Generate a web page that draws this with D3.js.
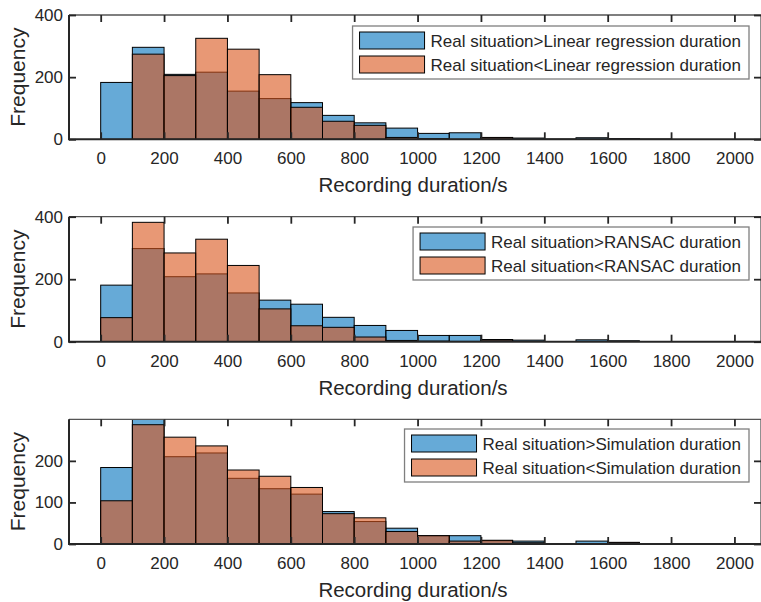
<!DOCTYPE html>
<html>
<head>
<meta charset="utf-8">
<script src="https://cdn.jsdelivr.net/npm/d3@7"></script>
<style>
  body { margin: 0; background: #fff; }
  svg text { font-family: "Liberation Sans", Arial, Helvetica, sans-serif; fill: #262626; }
</style>
</head>
<body>
<svg id="chart" width="761" height="602"></svg>
<script>
// ---- data ----
const binStarts = [0, 100, 200, 300, 400, 500, 600, 700, 800, 900,
                   1000, 1100, 1200, 1300, 1400, 1500, 1600, 1700, 1800, 1900];
const binWidth = 100;

const overLinear  = [183, 296, 209, 216, 155, 131, 118, 77, 53, 36, 19, 21, 6, 4, 1, 5, 2, 1, 0, 0];
const underLinear = [0, 274, 205, 325, 290, 208, 103, 58, 45, 6, 2, 0, 5, 0, 0, 0, 1, 0, 0, 0];

const overRansac  = [181, 298, 208, 217, 156, 133, 120, 78, 52, 36, 20, 20, 7, 5, 0, 6, 3, 0, 0, 0];
const underRansac = [77, 382, 284, 328, 244, 105, 51, 46, 15, 4, 2, 1, 5, 1, 0, 1, 1, 0, 0, 0];

const overSim     = [184, 302, 210, 219, 158, 133, 120, 78, 54, 38, 20, 20, 8, 7, 0, 7, 4, 1, 0, 0];
const underSim    = [104, 287, 257, 236, 178, 163, 136, 73, 63, 30, 20, 7, 9, 3, 0, 1, 3, 0, 0, 0];

const legendOver  = ["Real situation>Linear regression duration", "Real situation>RANSAC duration", "Real situation>Simulation duration"];
const legendUnder = ["Real situation<Linear regression duration", "Real situation<RANSAC duration", "Real situation<Simulation duration"];

const xTicks = [0, 200, 400, 600, 800, 1000, 1200, 1400, 1600, 1800, 2000];
const yTicksA = [0, 200, 400];
const yTicksC = [0, 100, 200];
const yMax = [400, 400, 300];

// ---- layout ----
const svg = d3.select("#chart");
const left = 69, right = 762;
const panels = [
  { top: 15,    bottom: 139.3, over: overLinear, under: underLinear, ticks: yTicksA },
  { top: 216.7, bottom: 341.7, over: overRansac, under: underRansac, ticks: yTicksA },
  { top: 419.3, bottom: 544,   over: overSim,    under: underSim,    ticks: yTicksC }
];
const blue = "#0072bd", orange = "#d95319", axisCol = "#262626";
const tickLen = 7;

const x = d3.scaleLinear().domain([-100, 2087]).range([left, right]);

panels.forEach((p, i) => {
  const y = d3.scaleLinear().domain([0, yMax[i]]).range([p.bottom, p.top]);
  const g = svg.append("g");

  g.append("clipPath").attr("id", "clip" + i)
    .append("rect").attr("x", left).attr("y", p.top)
    .attr("width", right - left).attr("height", p.bottom - p.top);

  const bars = g.append("g").attr("clip-path", `url(#clip${i})`);
  [[p.over, blue], [p.under, orange]].forEach(([vals, col]) => {
    bars.append("g").selectAll("rect")
      .data(binStarts.map((b, k) => ({ b, v: vals[k] })).filter(d => d.v > 0))
      .join("rect")
      .attr("x", d => x(d.b))
      .attr("width", d => x(d.b + binWidth) - x(d.b))
      .attr("y", d => y(d.v))
      .attr("height", d => y(0) - y(d.v))
      .attr("fill", col).attr("fill-opacity", 0.6)
      .attr("stroke", "#000").attr("stroke-width", 1);
  });

  // box: top/right lighter, left/bottom dark
  g.append("line").attr("x1", left).attr("x2", right).attr("y1", p.top).attr("y2", p.top)
    .attr("stroke", "#555").attr("stroke-width", 1.3);
  g.append("line").attr("x1", right - 1).attr("x2", right - 1).attr("y1", p.top).attr("y2", p.bottom)
    .attr("stroke", "#555").attr("stroke-width", 1.3);

  // x axis (bottom, ticks inward) + mirrored ticks on top
  const xa = g.append("g").attr("transform", `translate(0,${p.bottom})`)
    .call(d3.axisBottom(x).tickValues(xTicks).tickSize(-tickLen).tickPadding(tickLen + 6).tickFormat(d3.format("d")));
  xa.select(".domain").remove();
  xa.selectAll("line").attr("stroke", axisCol).attr("stroke-width", 1.8);
  xa.selectAll("text").style("font-size", "17px").attr("fill", axisCol);
  g.append("g").attr("transform", `translate(0,${p.top})`)
    .call(d3.axisTop(x).tickValues(xTicks).tickSize(-tickLen).tickFormat(""))
    .call(a => a.select(".domain").remove())
    .selectAll("line").attr("stroke", axisCol).attr("stroke-width", 1.8);

  const ya = g.append("g").attr("transform", `translate(${left},0)`)
    .call(d3.axisLeft(y).tickValues(p.ticks).tickSize(-tickLen).tickPadding(6));
  ya.select(".domain").remove();
  ya.selectAll("line").attr("stroke", axisCol).attr("stroke-width", 1.8);
  ya.selectAll("text").style("font-size", "17px").attr("fill", axisCol);
  g.append("g").attr("transform", `translate(${right - 1},0)`)
    .call(d3.axisRight(y).tickValues(p.ticks).tickSize(-tickLen).tickFormat(""))
    .call(a => a.select(".domain").remove())
    .selectAll("line").attr("stroke", axisCol).attr("stroke-width", 1.8);

  g.append("line").attr("x1", left).attr("x2", left).attr("y1", p.top).attr("y2", p.bottom + 1)
    .attr("stroke", axisCol).attr("stroke-width", 2);
  g.append("line").attr("x1", left).attr("x2", right).attr("y1", p.bottom).attr("y2", p.bottom)
    .attr("stroke", axisCol).attr("stroke-width", 2);

  // labels
  g.append("text").attr("x", 413).attr("y", p.bottom + 53)
    .attr("text-anchor", "middle").style("font-size", "20.5px").text("Recording duration/s");
  g.append("text")
    .attr("transform", `translate(25,${(p.top + p.bottom) / 2}) rotate(-90)`)
    .attr("text-anchor", "middle").style("font-size", "21px").text("Frequency");

  // legend, right edge fixed at 749
  const lg = g.append("g");
  const boxTop = [26, 227, 429][i];
  const t1 = lg.append("text").style("font-size", "17px").text(legendOver[i]);
  const t2 = lg.append("text").style("font-size", "17px").text(legendUnder[i]);
  const tw = Math.max(t1.node().getComputedTextLength(), t2.node().getComputedTextLength());
  const boxRight = 749, textX = boxRight - 8 - tw, swX = textX - 6 - 65, boxLeft = swX - 7;
  lg.insert("rect", "text").attr("x", boxLeft).attr("y", boxTop)
    .attr("width", boxRight - boxLeft).attr("height", 53)
    .attr("fill", "#fff").attr("stroke", "#7f7f7f").attr("stroke-width", 1.3);
  [blue, orange].forEach((c, k) => {
    lg.append("rect").attr("x", swX).attr("y", boxTop + 6 + k * 24).attr("width", 65).attr("height", 17)
      .attr("fill", c).attr("fill-opacity", 0.6).attr("stroke", "#000").attr("stroke-width", 1);
  });
  t1.attr("x", textX).attr("y", boxTop + 21);
  t2.attr("x", textX).attr("y", boxTop + 45);
});
</script>
</body>
</html>
